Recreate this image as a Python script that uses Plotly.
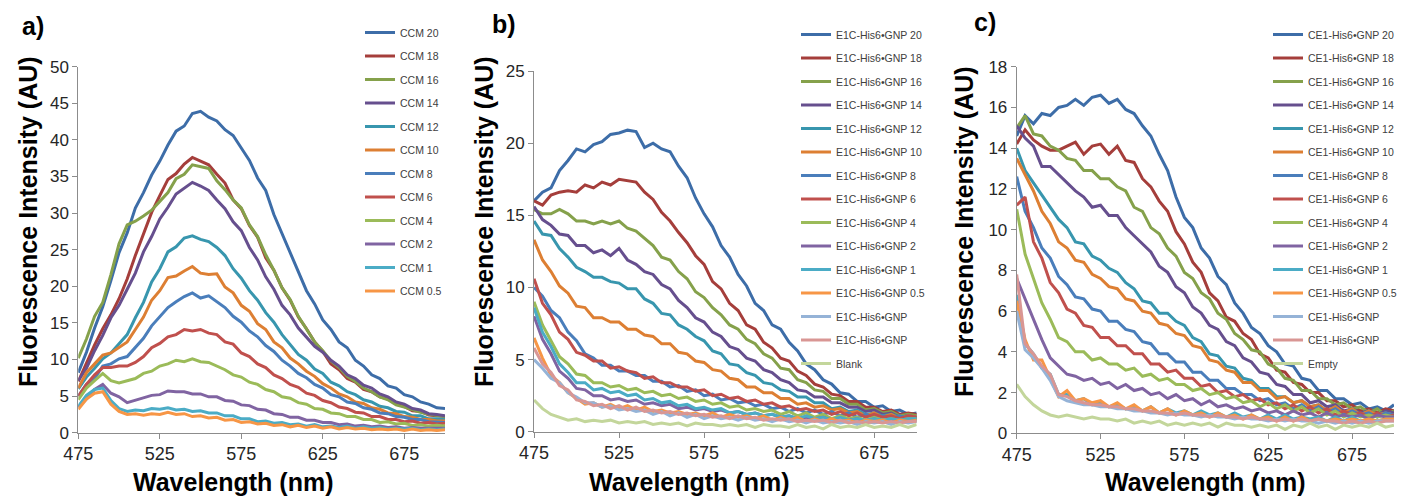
import plotly.graph_objects as go

# ---------------- data (5 nm sampling) ----------------
WL = [475, 480, 485, 490, 495, 500, 505, 510, 515, 520,
      525, 530, 535, 540, 545, 550, 555, 560, 565, 570,
      575, 580, 585, 590, 595, 600, 605, 610, 615, 620,
      625, 630, 635, 640, 645, 650, 655, 660, 665, 670,
      675, 680, 685, 690, 695, 700]

# Panel a) CCM
a_names = ["CCM 20", "CCM 18", "CCM 16", "CCM 14", "CCM 12", "CCM 10",
           "CCM 8", "CCM 6", "CCM 4", "CCM 2", "CCM 1", "CCM 0.5"]
ccm20 = [8.2, 11.0, 14.3, 17.2, 20.8, 24.6, 27.3, 30.7, 32.8, 35.2,
         37.1, 39.3, 41.2, 41.9, 43.6, 43.9, 43.1, 42.6, 41.4, 40.6,
         38.9, 37.2, 34.8, 33.1, 29.8, 27.2, 24.8, 22.1, 19.4, 17.6,
         15.4, 14.1, 12.4, 11.6, 9.9, 9.1, 7.9, 7.4, 6.4, 6.1,
         5.2, 4.9, 4.2, 3.9, 3.4, 3.3]
ccm18 = [7.0, 9.5, 12.0, 14.2, 16.1, 18.3, 21.0, 24.2, 27.3, 30.1,
         32.4, 34.6, 35.4, 36.7, 37.6, 37.1, 36.6, 35.3, 34.1, 31.8,
         30.6, 28.3, 26.7, 23.9, 22.2, 19.8, 18.1, 15.8, 14.2, 12.4,
         11.1, 9.4, 8.6, 7.4, 6.9, 5.9, 5.6, 4.9, 4.6, 3.9,
         3.6, 3.0, 2.9, 2.4, 2.3, 2.2]
ccm16 = [10.2, 12.8, 15.9, 17.8, 21.6, 25.8, 28.4, 28.9, 29.6, 30.4,
         31.6, 32.8, 34.7, 35.3, 36.6, 36.3, 36.1, 34.4, 33.2, 31.8,
         30.7, 28.4, 26.8, 24.3, 22.2, 19.8, 18.2, 15.9, 14.1, 12.4,
         11.2, 9.8, 8.9, 7.7, 7.0, 6.1, 5.6, 4.9, 4.5, 3.8,
         3.5, 3.1, 2.8, 2.5, 2.3, 2.2]
ccm14 = [7.1, 8.8, 11.2, 13.3, 15.7, 17.4, 19.6, 21.8, 24.7, 26.8,
         29.2, 30.8, 32.6, 33.4, 34.2, 33.7, 33.1, 31.8, 30.6, 28.8,
         27.6, 25.3, 23.6, 21.3, 19.6, 17.4, 16.1, 14.3, 13.1, 11.8,
         11.0, 9.9, 9.1, 7.9, 7.4, 6.5, 6.1, 5.3, 4.9, 4.2,
         3.9, 3.3, 3.1, 2.6, 2.5, 2.3]
ccm12 = [6.0, 7.6, 8.8, 10.1, 10.9, 12.2, 13.4, 15.7, 17.8, 20.6,
         22.4, 24.7, 25.4, 26.6, 26.9, 26.4, 26.1, 25.3, 24.2, 22.4,
         21.1, 19.4, 18.1, 16.4, 15.1, 13.4, 12.1, 10.7, 9.9, 8.7,
         8.1, 6.9, 6.4, 5.6, 5.2, 4.5, 4.2, 3.6, 3.4, 2.9,
         2.8, 2.3, 2.3, 1.9, 1.9, 1.8]
ccm10 = [6.1, 8.2, 9.4, 10.6, 10.9, 11.6, 12.4, 14.1, 15.8, 18.1,
         19.4, 21.2, 21.4, 22.1, 22.7, 21.8, 21.6, 21.7, 19.9, 19.1,
         17.4, 16.6, 14.9, 14.1, 12.4, 11.6, 10.2, 9.4, 8.4, 7.7,
         6.7, 6.1, 5.3, 4.9, 4.2, 4.0, 3.4, 3.2, 2.7, 2.6,
         2.2, 2.1, 1.8, 1.8, 1.6, 1.6]
ccm8 = [5.0, 6.6, 7.4, 9.1, 9.4, 10.1, 10.4, 11.6, 12.9, 14.6,
        15.9, 17.1, 17.9, 18.6, 19.1, 18.4, 18.7, 17.9, 17.1, 15.9,
        15.1, 13.9, 13.1, 11.9, 11.1, 9.9, 9.1, 8.1, 7.5, 6.6,
        6.1, 5.2, 4.9, 4.2, 4.0, 3.4, 3.2, 2.7, 2.6, 2.2,
        2.1, 1.8, 1.8, 1.5, 1.5, 1.4]
ccm6 = [5.0, 6.6, 7.9, 8.9, 8.9, 9.1, 9.1, 9.6, 10.4, 11.6,
        12.2, 13.1, 13.4, 14.1, 13.9, 14.1, 13.6, 13.4, 12.4, 12.1,
        10.9, 10.4, 9.4, 8.9, 7.9, 7.4, 6.6, 6.2, 5.4, 5.1,
        4.4, 4.1, 3.5, 3.3, 2.8, 2.7, 2.2, 2.2, 1.8, 1.8,
        1.5, 1.6, 1.3, 1.4, 1.2, 1.3]
ccm4 = [4.5, 6.1, 7.1, 8.1, 7.1, 6.8, 7.1, 7.4, 8.1, 8.4,
        9.1, 9.4, 9.9, 9.7, 10.1, 9.7, 9.6, 9.1, 8.6, 7.9,
        7.6, 6.9, 6.6, 5.9, 5.6, 4.9, 4.7, 4.1, 3.9, 3.3,
        3.2, 2.7, 2.6, 2.2, 2.2, 1.8, 1.8, 1.4, 1.5, 1.2,
        1.3, 1.0, 1.1, 0.9, 1.0, 0.9]
ccm2 = [3.5, 4.6, 5.9, 6.6, 5.4, 4.9, 4.1, 4.4, 4.7, 5.1,
        5.2, 5.7, 5.6, 5.6, 5.3, 5.3, 4.9, 4.9, 4.4, 4.3,
        3.8, 3.7, 3.2, 3.1, 2.6, 2.5, 2.1, 2.1, 1.7, 1.7,
        1.4, 1.4, 1.1, 1.2, 0.9, 1.0, 0.8, 0.9, 0.7, 0.8,
        0.6, 0.7, 0.6, 0.6, 0.5, 0.6]
ccm1 = [3.6, 5.1, 5.9, 6.1, 4.4, 3.3, 2.9, 3.1, 3.0, 3.3,
        3.2, 3.4, 3.1, 3.2, 2.9, 3.0, 2.7, 2.7, 2.3, 2.3,
        1.9, 1.9, 1.5, 1.6, 1.3, 1.4, 1.1, 1.2, 0.9, 1.1,
        0.8, 0.9, 0.7, 0.9, 0.6, 0.8, 0.6, 0.7, 0.5, 0.6,
        0.5, 0.6, 0.4, 0.5, 0.4, 0.5]
ccm05 = [3.2, 4.6, 5.4, 5.6, 3.9, 2.9, 2.5, 2.6, 2.4, 2.6,
         2.5, 2.8, 2.5, 2.6, 2.2, 2.3, 2.0, 2.1, 1.7, 1.8,
         1.4, 1.5, 1.2, 1.3, 1.0, 1.1, 0.8, 1.0, 0.7, 0.9,
         0.6, 0.8, 0.5, 0.7, 0.5, 0.6, 0.4, 0.5, 0.4, 0.5,
         0.3, 0.5, 0.3, 0.4, 0.3, 0.4]
a_series = [ccm20, ccm18, ccm16, ccm14, ccm12, ccm10, ccm8, ccm6, ccm4, ccm2, ccm1, ccm05]

# Panel b) E1C-His6•GNP
b_names = ["E1C-His6\u2022GNP 20", "E1C-His6\u2022GNP 18", "E1C-His6\u2022GNP 16",
           "E1C-His6\u2022GNP 14", "E1C-His6\u2022GNP 12", "E1C-His6\u2022GNP 10",
           "E1C-His6\u2022GNP 8", "E1C-His6\u2022GNP 6", "E1C-His6\u2022GNP 4",
           "E1C-His6\u2022GNP 2", "E1C-His6\u2022GNP 1", "E1C-His6\u2022GNP 0.5",
           "E1C-His6\u2022GNP ", "E1C-His6\u2022GNP  ", "Blank"]
e20 = [16.0, 16.6, 16.9, 18.1, 18.8, 19.6, 19.4, 19.9, 20.1, 20.6,
       20.7, 20.9, 20.8, 19.7, 20.0, 19.6, 19.4, 18.4, 17.6, 16.2,
       15.1, 14.2, 12.9, 12.1, 10.9, 10.1, 8.9, 8.4, 7.4, 7.1,
       6.2, 5.6, 4.7, 4.3, 3.6, 3.3, 2.7, 2.6, 2.1, 2.1,
       1.7, 1.8, 1.4, 1.5, 1.2, 1.3]
e18 = [16.0, 15.7, 16.4, 16.6, 16.7, 16.6, 17.1, 16.9, 17.3, 17.1,
       17.5, 17.4, 17.3, 16.6, 16.1, 15.2, 14.6, 13.8, 13.1, 12.2,
       11.6, 10.4, 9.9, 8.9, 8.4, 7.4, 7.1, 6.2, 5.8, 5.1,
       4.9, 4.2, 3.9, 3.3, 3.1, 2.6, 2.5, 2.1, 2.1, 1.7,
       1.7, 1.4, 1.5, 1.2, 1.3, 1.2]
e16 = [15.4, 15.1, 15.1, 15.4, 15.1, 14.6, 14.6, 14.4, 14.6, 14.4,
       14.6, 14.1, 13.9, 13.4, 12.9, 12.1, 11.9, 11.1, 10.6, 9.7,
       9.3, 8.6, 8.1, 7.4, 7.1, 6.4, 6.1, 5.4, 5.1, 4.4,
       4.3, 3.6, 3.4, 2.9, 2.8, 2.3, 2.3, 1.9, 1.9, 1.5,
       1.6, 1.3, 1.4, 1.1, 1.2, 1.1]
e14 = [15.6, 14.7, 14.3, 13.7, 13.6, 12.9, 12.9, 12.4, 12.6, 12.2,
       12.7, 11.9, 11.6, 11.1, 10.9, 10.2, 9.9, 9.1, 8.6, 7.9,
       7.6, 6.9, 6.6, 5.9, 5.7, 5.1, 4.9, 4.3, 4.1, 3.6,
       3.4, 2.9, 2.8, 2.4, 2.4, 2.0, 2.0, 1.7, 1.7, 1.4,
       1.5, 1.2, 1.3, 1.0, 1.1, 1.0]
e12 = [14.6, 13.7, 13.6, 12.7, 12.1, 11.4, 11.1, 10.7, 10.7, 10.4,
       10.3, 9.9, 9.9, 9.2, 8.9, 8.2, 8.1, 7.4, 7.1, 6.6,
       6.3, 5.6, 5.4, 4.7, 4.6, 4.1, 3.9, 3.4, 3.3, 2.9,
       2.8, 2.4, 2.4, 2.0, 2.0, 1.6, 1.7, 1.4, 1.5, 1.2,
       1.3, 1.1, 1.2, 1.0, 1.1, 1.0]
e10 = [13.3, 11.9, 11.1, 10.1, 9.6, 8.7, 8.6, 7.9, 7.9, 7.6,
       7.6, 7.1, 7.1, 6.7, 6.6, 6.1, 6.1, 5.5, 5.4, 4.9,
       4.8, 4.3, 4.2, 3.7, 3.6, 3.1, 3.1, 2.7, 2.7, 2.3,
       2.3, 1.9, 2.0, 1.7, 1.8, 1.5, 1.6, 1.3, 1.4, 1.1,
       1.3, 1.0, 1.2, 0.9, 1.1, 1.0]
e8 = [10.0, 9.4, 8.4, 7.9, 6.9, 6.3, 5.4, 5.1, 4.6, 4.6,
      4.2, 4.2, 3.9, 3.9, 3.5, 3.5, 3.1, 3.2, 2.8, 2.9,
      2.5, 2.6, 2.2, 2.3, 2.0, 2.1, 1.8, 1.9, 1.6, 1.7,
      1.4, 1.6, 1.3, 1.5, 1.2, 1.4, 1.1, 1.3, 1.0, 1.2,
      1.0, 1.1, 0.9, 1.1, 0.9, 1.0]
e6 = [10.6, 8.9, 8.1, 6.9, 6.4, 5.5, 5.3, 4.9, 4.9, 4.4,
      4.5, 4.2, 4.1, 3.7, 3.8, 3.4, 3.4, 3.1, 3.1, 2.8,
      2.9, 2.5, 2.6, 2.3, 2.4, 2.1, 2.2, 1.9, 2.0, 1.7,
      1.8, 1.5, 1.6, 1.4, 1.5, 1.2, 1.4, 1.1, 1.3, 1.0,
      1.2, 1.0, 1.1, 0.9, 1.1, 1.0]
e4 = [9.0, 7.4, 6.3, 5.2, 4.7, 4.0, 3.9, 3.4, 3.4, 3.1,
      3.2, 2.9, 3.0, 2.7, 2.8, 2.5, 2.6, 2.3, 2.4, 2.1,
      2.2, 1.9, 2.0, 1.7, 1.8, 1.5, 1.6, 1.4, 1.5, 1.2,
      1.4, 1.1, 1.3, 1.0, 1.2, 0.9, 1.1, 0.9, 1.0, 0.8,
      1.0, 0.8, 0.9, 0.8, 0.9, 0.9]
e2 = [8.0, 6.4, 5.4, 4.2, 3.7, 3.0, 2.9, 2.5, 2.5, 2.2,
      2.3, 2.1, 2.2, 1.9, 2.0, 1.8, 1.9, 1.6, 1.7, 1.5,
      1.6, 1.4, 1.5, 1.3, 1.4, 1.2, 1.3, 1.1, 1.2, 1.0,
      1.1, 0.9, 1.0, 0.9, 1.0, 0.8, 0.9, 0.8, 0.9, 0.7,
      0.9, 0.7, 0.8, 0.7, 0.8, 0.8]
e1 = [8.6, 6.9, 5.9, 4.7, 4.1, 3.4, 3.4, 2.9, 3.0, 2.7,
      2.8, 2.5, 2.6, 2.2, 2.3, 2.0, 2.1, 1.8, 1.9, 1.6,
      1.7, 1.5, 1.6, 1.3, 1.4, 1.2, 1.3, 1.1, 1.2, 1.0,
      1.1, 0.9, 1.1, 0.9, 1.0, 0.8, 1.0, 0.8, 0.9, 0.8,
      0.9, 0.8, 0.9, 0.8, 0.9, 0.9]
e05 = [6.5, 5.1, 3.9, 3.4, 2.7, 2.3, 1.9, 2.0, 1.7, 1.9,
       1.6, 1.8, 1.5, 1.7, 1.4, 1.5, 1.3, 1.4, 1.2, 1.3,
       1.1, 1.3, 1.0, 1.2, 1.0, 1.1, 0.9, 1.1, 0.8, 1.0,
       0.8, 1.0, 0.7, 0.9, 0.7, 0.9, 0.7, 0.8, 0.6, 0.8,
       0.7, 0.8, 0.6, 0.8, 0.7, 0.8]
e_gnp_a = [5.0, 4.4, 3.7, 3.4, 2.7, 2.4, 2.0, 2.0, 1.7, 1.8,
           1.5, 1.6, 1.4, 1.5, 1.2, 1.4, 1.1, 1.3, 1.0, 1.2,
           0.9, 1.1, 0.9, 1.0, 0.8, 1.0, 0.8, 0.9, 0.7, 0.9,
           0.7, 0.8, 0.6, 0.8, 0.6, 0.7, 0.6, 0.7, 0.5, 0.7,
           0.6, 0.7, 0.5, 0.7, 0.6, 0.7]
e_gnp_b = [5.8, 4.7, 4.1, 3.2, 2.9, 2.2, 2.1, 1.8, 1.9, 1.6,
           1.8, 1.5, 1.7, 1.4, 1.5, 1.3, 1.4, 1.2, 1.3, 1.1,
           1.2, 1.0, 1.1, 0.9, 1.1, 0.9, 1.0, 0.8, 0.9, 0.8,
           0.9, 0.7, 0.8, 0.7, 0.8, 0.6, 0.8, 0.6, 0.7, 0.6,
           0.7, 0.6, 0.7, 0.6, 0.7, 0.7]
e_blank = [2.2, 1.6, 1.2, 1.0, 0.8, 0.9, 0.7, 0.8, 0.7, 0.8,
           0.6, 0.7, 0.6, 0.7, 0.5, 0.6, 0.5, 0.6, 0.4, 0.6,
           0.5, 0.5, 0.4, 0.5, 0.4, 0.5, 0.3, 0.5, 0.4, 0.4,
           0.3, 0.5, 0.3, 0.4, 0.2, 0.5, 0.3, 0.4, 0.3, 0.5,
           0.3, 0.4, 0.3, 0.5, 0.3, 0.5]
b_series = [e20, e18, e16, e14, e12, e10, e8, e6, e4, e2, e1, e05, e_gnp_a, e_gnp_b, e_blank]

# Panel c) CE1-His6•GNP
c_names = ["CE1-His6\u2022GNP 20", "CE1-His6\u2022GNP 18", "CE1-His6\u2022GNP 16",
           "CE1-His6\u2022GNP 14", "CE1-His6\u2022GNP 12", "CE1-His6\u2022GNP 10",
           "CE1-His6\u2022GNP 8", "CE1-His6\u2022GNP 6", "CE1-His6\u2022GNP 4",
           "CE1-His6\u2022GNP 2", "CE1-His6\u2022GNP 1", "CE1-His6\u2022GNP 0.5",
           "CE1-His6\u2022GNP ", "CE1-His6\u2022GNP  ", "Empty"]
c20 = [14.6, 15.6, 15.2, 15.7, 15.6, 16.0, 16.1, 16.4, 16.1, 16.5,
       16.6, 16.2, 16.4, 15.9, 15.7, 15.1, 14.6, 13.7, 12.9, 11.6,
       10.6, 10.1, 9.1, 8.6, 7.7, 7.3, 6.4, 5.9, 5.2, 4.9,
       4.3, 4.0, 3.4, 3.3, 2.7, 2.6, 2.1, 2.1, 1.7, 1.7,
       1.4, 1.5, 1.2, 1.3, 1.1, 1.4]
c18 = [14.2, 14.9, 14.4, 14.1, 13.9, 13.9, 14.1, 14.3, 13.7, 14.1,
       14.2, 13.7, 14.1, 13.4, 13.3, 12.5, 12.1, 11.4, 10.9, 9.9,
       9.3, 8.4, 7.9, 6.9, 6.5, 5.7, 5.5, 4.9, 4.6, 3.9,
       3.7, 3.1, 3.0, 2.5, 2.4, 2.0, 2.0, 1.6, 1.6, 1.3,
       1.4, 1.1, 1.2, 1.0, 1.2, 1.1]
c16 = [15.0, 15.6, 14.7, 14.6, 14.1, 13.9, 13.5, 13.4, 12.9, 12.9,
       12.5, 12.5, 12.1, 11.9, 11.1, 10.9, 10.1, 9.8, 9.1, 8.7,
       7.9, 7.6, 6.9, 6.6, 5.9, 5.6, 4.9, 4.6, 4.1, 4.0,
       3.4, 3.2, 2.7, 2.6, 2.1, 2.1, 1.7, 1.7, 1.4, 1.5,
       1.2, 1.3, 1.0, 1.2, 0.9, 1.1]
c14 = [15.1, 14.5, 14.1, 13.1, 13.1, 12.7, 12.3, 11.9, 11.6, 11.1,
       11.2, 10.7, 10.7, 10.1, 9.7, 9.3, 8.9, 8.2, 7.9, 7.2,
       6.9, 6.2, 5.9, 5.3, 5.1, 4.5, 4.3, 3.7, 3.5, 3.0,
       2.9, 2.4, 2.3, 1.9, 1.9, 1.5, 1.6, 1.3, 1.4, 1.1,
       1.2, 1.0, 1.1, 0.9, 1.1, 1.0]
c12 = [14.0, 12.9, 12.3, 11.7, 11.1, 10.5, 10.1, 9.4, 9.3, 8.7,
       8.5, 8.1, 7.9, 7.4, 7.1, 6.5, 6.4, 5.9, 5.9, 5.5,
       5.3, 4.7, 4.5, 3.9, 3.8, 3.3, 3.2, 2.7, 2.6, 2.2,
       2.2, 1.8, 1.8, 1.5, 1.6, 1.3, 1.4, 1.1, 1.3, 1.0,
       1.2, 0.9, 1.1, 0.9, 1.0, 0.9]
c10 = [13.5, 12.7, 11.9, 10.9, 10.3, 9.4, 9.1, 8.5, 8.4, 7.8,
       7.6, 7.2, 7.1, 6.6, 6.5, 6.0, 5.9, 5.4, 5.3, 4.9,
       4.8, 4.3, 4.2, 3.6, 3.5, 3.1, 3.0, 2.5, 2.5, 2.1,
       2.1, 1.7, 1.8, 1.5, 1.6, 1.3, 1.4, 1.1, 1.3, 1.0,
       1.2, 0.9, 1.1, 0.9, 1.0, 0.9]
c8 = [12.6, 10.9, 10.1, 9.1, 8.6, 7.7, 7.3, 6.7, 6.6, 6.1,
      6.0, 5.5, 5.5, 5.1, 5.0, 4.5, 4.4, 3.9, 3.9, 3.5,
      3.5, 3.0, 3.0, 2.6, 2.6, 2.2, 2.2, 1.9, 1.9, 1.6,
      1.7, 1.4, 1.5, 1.2, 1.4, 1.1, 1.3, 1.0, 1.2, 0.9,
      1.1, 0.9, 1.0, 0.8, 1.0, 0.9]
c6 = [11.2, 11.6, 9.4, 8.6, 7.4, 6.9, 6.1, 5.9, 5.3, 5.2,
      4.7, 4.7, 4.3, 4.3, 3.9, 3.9, 3.4, 3.4, 3.0, 3.1,
      2.7, 2.7, 2.3, 2.4, 2.0, 2.1, 1.8, 1.9, 1.6, 1.7,
      1.4, 1.5, 1.2, 1.4, 1.1, 1.3, 1.0, 1.2, 0.9, 1.1,
      0.9, 1.0, 0.8, 1.0, 0.8, 0.9]
c4 = [11.0, 8.8, 7.6, 6.4, 5.6, 4.7, 4.5, 4.0, 4.0, 3.6,
      3.7, 3.4, 3.4, 3.1, 3.2, 2.8, 2.9, 2.6, 2.7, 2.4,
      2.4, 2.1, 2.2, 1.9, 2.0, 1.7, 1.8, 1.5, 1.6, 1.3,
      1.5, 1.2, 1.4, 1.1, 1.3, 1.0, 1.2, 0.9, 1.1, 0.8,
      1.0, 0.8, 0.9, 0.8, 0.9, 0.8]
c2 = [7.6, 6.6, 5.6, 4.6, 3.7, 3.3, 2.9, 2.8, 2.6, 2.7,
      2.4, 2.5, 2.2, 2.4, 2.1, 2.2, 1.9, 2.0, 1.7, 1.9,
      1.6, 1.7, 1.4, 1.6, 1.3, 1.4, 1.2, 1.3, 1.1, 1.2,
      1.0, 1.1, 0.9, 1.1, 0.9, 1.0, 0.8, 1.0, 0.8, 0.9,
      0.8, 0.9, 0.7, 0.9, 0.8, 0.8]
c1 = [6.8, 4.4, 3.9, 3.2, 2.9, 1.9, 1.9, 1.6, 1.7, 1.4,
      1.5, 1.3, 1.4, 1.2, 1.3, 1.1, 1.3, 1.0, 1.2, 1.0,
      1.1, 0.9, 1.1, 0.9, 1.0, 0.8, 1.0, 0.8, 0.9, 0.7,
      0.9, 0.7, 0.9, 0.7, 0.8, 0.7, 0.8, 0.6, 0.8, 0.6,
      0.8, 0.6, 0.7, 0.6, 0.7, 0.7]
c05 = [6.5, 4.6, 3.6, 3.6, 2.7, 1.8, 2.1, 1.6, 1.7, 1.5,
       1.6, 1.3, 1.5, 1.2, 1.4, 1.1, 1.3, 1.0, 1.2, 0.9,
       1.1, 0.9, 1.0, 0.8, 1.0, 0.8, 0.9, 0.7, 0.9, 0.7,
       0.8, 0.6, 0.8, 0.6, 0.8, 0.6, 0.7, 0.6, 0.7, 0.6,
       0.7, 0.6, 0.7, 0.6, 0.7, 0.7]
c_gnp_a = [6.0, 4.1, 3.7, 3.2, 2.6, 1.8, 1.6, 1.5, 1.4, 1.4,
           1.3, 1.3, 1.2, 1.2, 1.1, 1.1, 1.0, 1.0, 0.9, 1.0,
           0.9, 0.9, 0.8, 0.9, 0.8, 0.8, 0.7, 0.8, 0.7, 0.7,
           0.6, 0.7, 0.6, 0.7, 0.6, 0.6, 0.5, 0.6, 0.5, 0.6,
           0.5, 0.6, 0.5, 0.6, 0.6, 0.6]
c_gnp_b = [7.8, 4.4, 3.9, 3.3, 2.9, 1.9, 1.8, 1.6, 1.5, 1.4,
           1.4, 1.3, 1.3, 1.2, 1.2, 1.1, 1.1, 1.0, 1.0, 0.9,
           1.0, 0.9, 0.9, 0.8, 0.9, 0.8, 0.8, 0.7, 0.8, 0.7,
           0.7, 0.6, 0.7, 0.6, 0.7, 0.6, 0.7, 0.6, 0.6, 0.5,
           0.6, 0.5, 0.6, 0.5, 0.6, 0.6]
c_empty = [2.4, 1.8, 1.4, 1.1, 0.9, 0.8, 0.9, 0.8, 0.7, 0.8,
           0.7, 0.7, 0.6, 0.7, 0.5, 0.6, 0.5, 0.6, 0.4, 0.5,
           0.4, 0.5, 0.4, 0.5, 0.3, 0.5, 0.4, 0.4, 0.3, 0.4,
           0.3, 0.4, 0.2, 0.4, 0.3, 0.5, 0.3, 0.4, 0.2, 0.4,
           0.3, 0.4, 0.3, 0.5, 0.3, 0.4]
c_series = [c20, c18, c16, c14, c12, c10, c8, c6, c4, c2, c1, c05, c_gnp_a, c_gnp_b, c_empty]

# ---------------- styling ----------------
COLORS = ["#3D6DA8", "#A53E3B", "#85A14B", "#664F8E", "#3896AE", "#DD7F33",
          "#4A7EBB", "#C0504D", "#9BBB59", "#8064A2", "#4BACC6", "#F79646",
          "#95B3D7", "#D99694", "#C3D69B"]
FONT = "Arial, Liberation Sans, sans-serif"
W, H = 1405, 499

# plot-area pixel boxes (left, right, top, bottom)
boxes = {
    "a": (78.3, 445.0, 66.7, 432.7),
    "b": (534.0, 916.7, 71.0, 431.7),
    "c": (1016.7, 1394.0, 66.7, 433.3),
}
yranges = {"a": (50, 5), "b": (25, 5), "c": (18, 2)}

fig = go.Figure()
panels = [("a", a_names, a_series, "x", "y", "legend"),
          ("b", b_names, b_series, "x2", "y2", "legend2"),
          ("c", c_names, c_series, "x3", "y3", "legend3")]

for key, names, series, xa, ya, lg in panels:
    for i, (nm, ys) in enumerate(zip(names, series)):
        fig.add_trace(go.Scatter(
            x=WL[:len(ys)], y=ys, mode="lines", name=nm,
            line=dict(color=COLORS[i], width=3),
            xaxis=xa, yaxis=ya, legend=lg, legendgroup=f"{key}{i}",
        ))

layout = dict(
    width=W, height=H, margin=dict(l=0, r=0, t=0, b=0, autoexpand=False),
    paper_bgcolor="white", plot_bgcolor="white",
    font=dict(family=FONT, color="#262626"),
    showlegend=True,
)

axis_ids = {"a": ("xaxis", "yaxis", "x", "y"),
            "b": ("xaxis2", "yaxis2", "x2", "y2"),
            "c": ("xaxis3", "yaxis3", "x3", "y3")}
for key, (l, r, t, b) in boxes.items():
    xk, yk, xref, yref = axis_ids[key]
    ymax, dt = yranges[key]
    layout[xk] = dict(
        domain=[l / W, r / W], range=[475, 700], anchor=yref,
        tickmode="linear", tick0=475, dtick=50,
        showline=True, linecolor="#8c8c8c", linewidth=1,
        ticks="outside", ticklen=5, tickcolor="#8c8c8c",
        showgrid=False, zeroline=False, automargin=False,
        tickfont=dict(size=18, family=FONT, color="#262626"),
    )
    layout[yk] = dict(
        domain=[1 - b / H, 1 - t / H], range=[0, ymax], anchor=xref,
        tickmode="linear", tick0=0, dtick=dt,
        showline=True, linecolor="#8c8c8c", linewidth=1,
        ticks="outside", ticklen=5, tickcolor="#8c8c8c",
        showgrid=False, zeroline=False, automargin=False,
        tickfont=dict(size=17, family=FONT, color="#262626"),
    )

legend_common = dict(
    xanchor="left", yanchor="top", bgcolor="rgba(0,0,0,0)",
    font=dict(size=10.5, family=FONT, color="#404040"),
    traceorder="grouped", tracegroupgap=4.5, itemwidth=30,
)
layout["legend"] = dict(x=360 / W, y=1 - 18 / H, **legend_common)
layout["legend2"] = dict(x=796 / W, y=1 - 20 / H, **legend_common)
layout["legend3"] = dict(x=1268 / W, y=1 - 20 / H, **legend_common)

fig.update_layout(**layout)

# titles and panel labels
ann = []
for key, lbl, lx, ly, ytx, yty, xtx in [
    ("a", "a)", 33, 26, 28, 222, 233),
    ("b", "b)", 504, 24, 484, 222, 689),
    ("c", "c)", 985, 22, 964, 232, 1205),
]:
    ann.append(dict(text=f"<b>{lbl}</b>", x=lx / W, y=1 - ly / H, xref="paper", yref="paper",
                    showarrow=False, font=dict(size=25, family=FONT, color="black"),
                    xanchor="center", yanchor="middle"))
    ann.append(dict(text="<b>Fluorescence Intensity (AU)</b>", x=ytx / W, y=1 - yty / H,
                    xref="paper", yref="paper", showarrow=False, textangle=-90,
                    font=dict(size=25, family=FONT, color="black"),
                    xanchor="center", yanchor="middle"))
    ann.append(dict(text="<b>Wavelength (nm)</b>", x=xtx / W, y=1 - 482 / H,
                    xref="paper", yref="paper", showarrow=False,
                    font=dict(size=25, family=FONT, color="black"),
                    xanchor="center", yanchor="middle"))
fig.update_layout(annotations=ann)

# remove the default page margin so the figure fills the window exactly
fig.write_html("out.html",
               config={"displayModeBar": False},
               post_script="document.body.style.margin='0';document.body.style.overflow='hidden';")
